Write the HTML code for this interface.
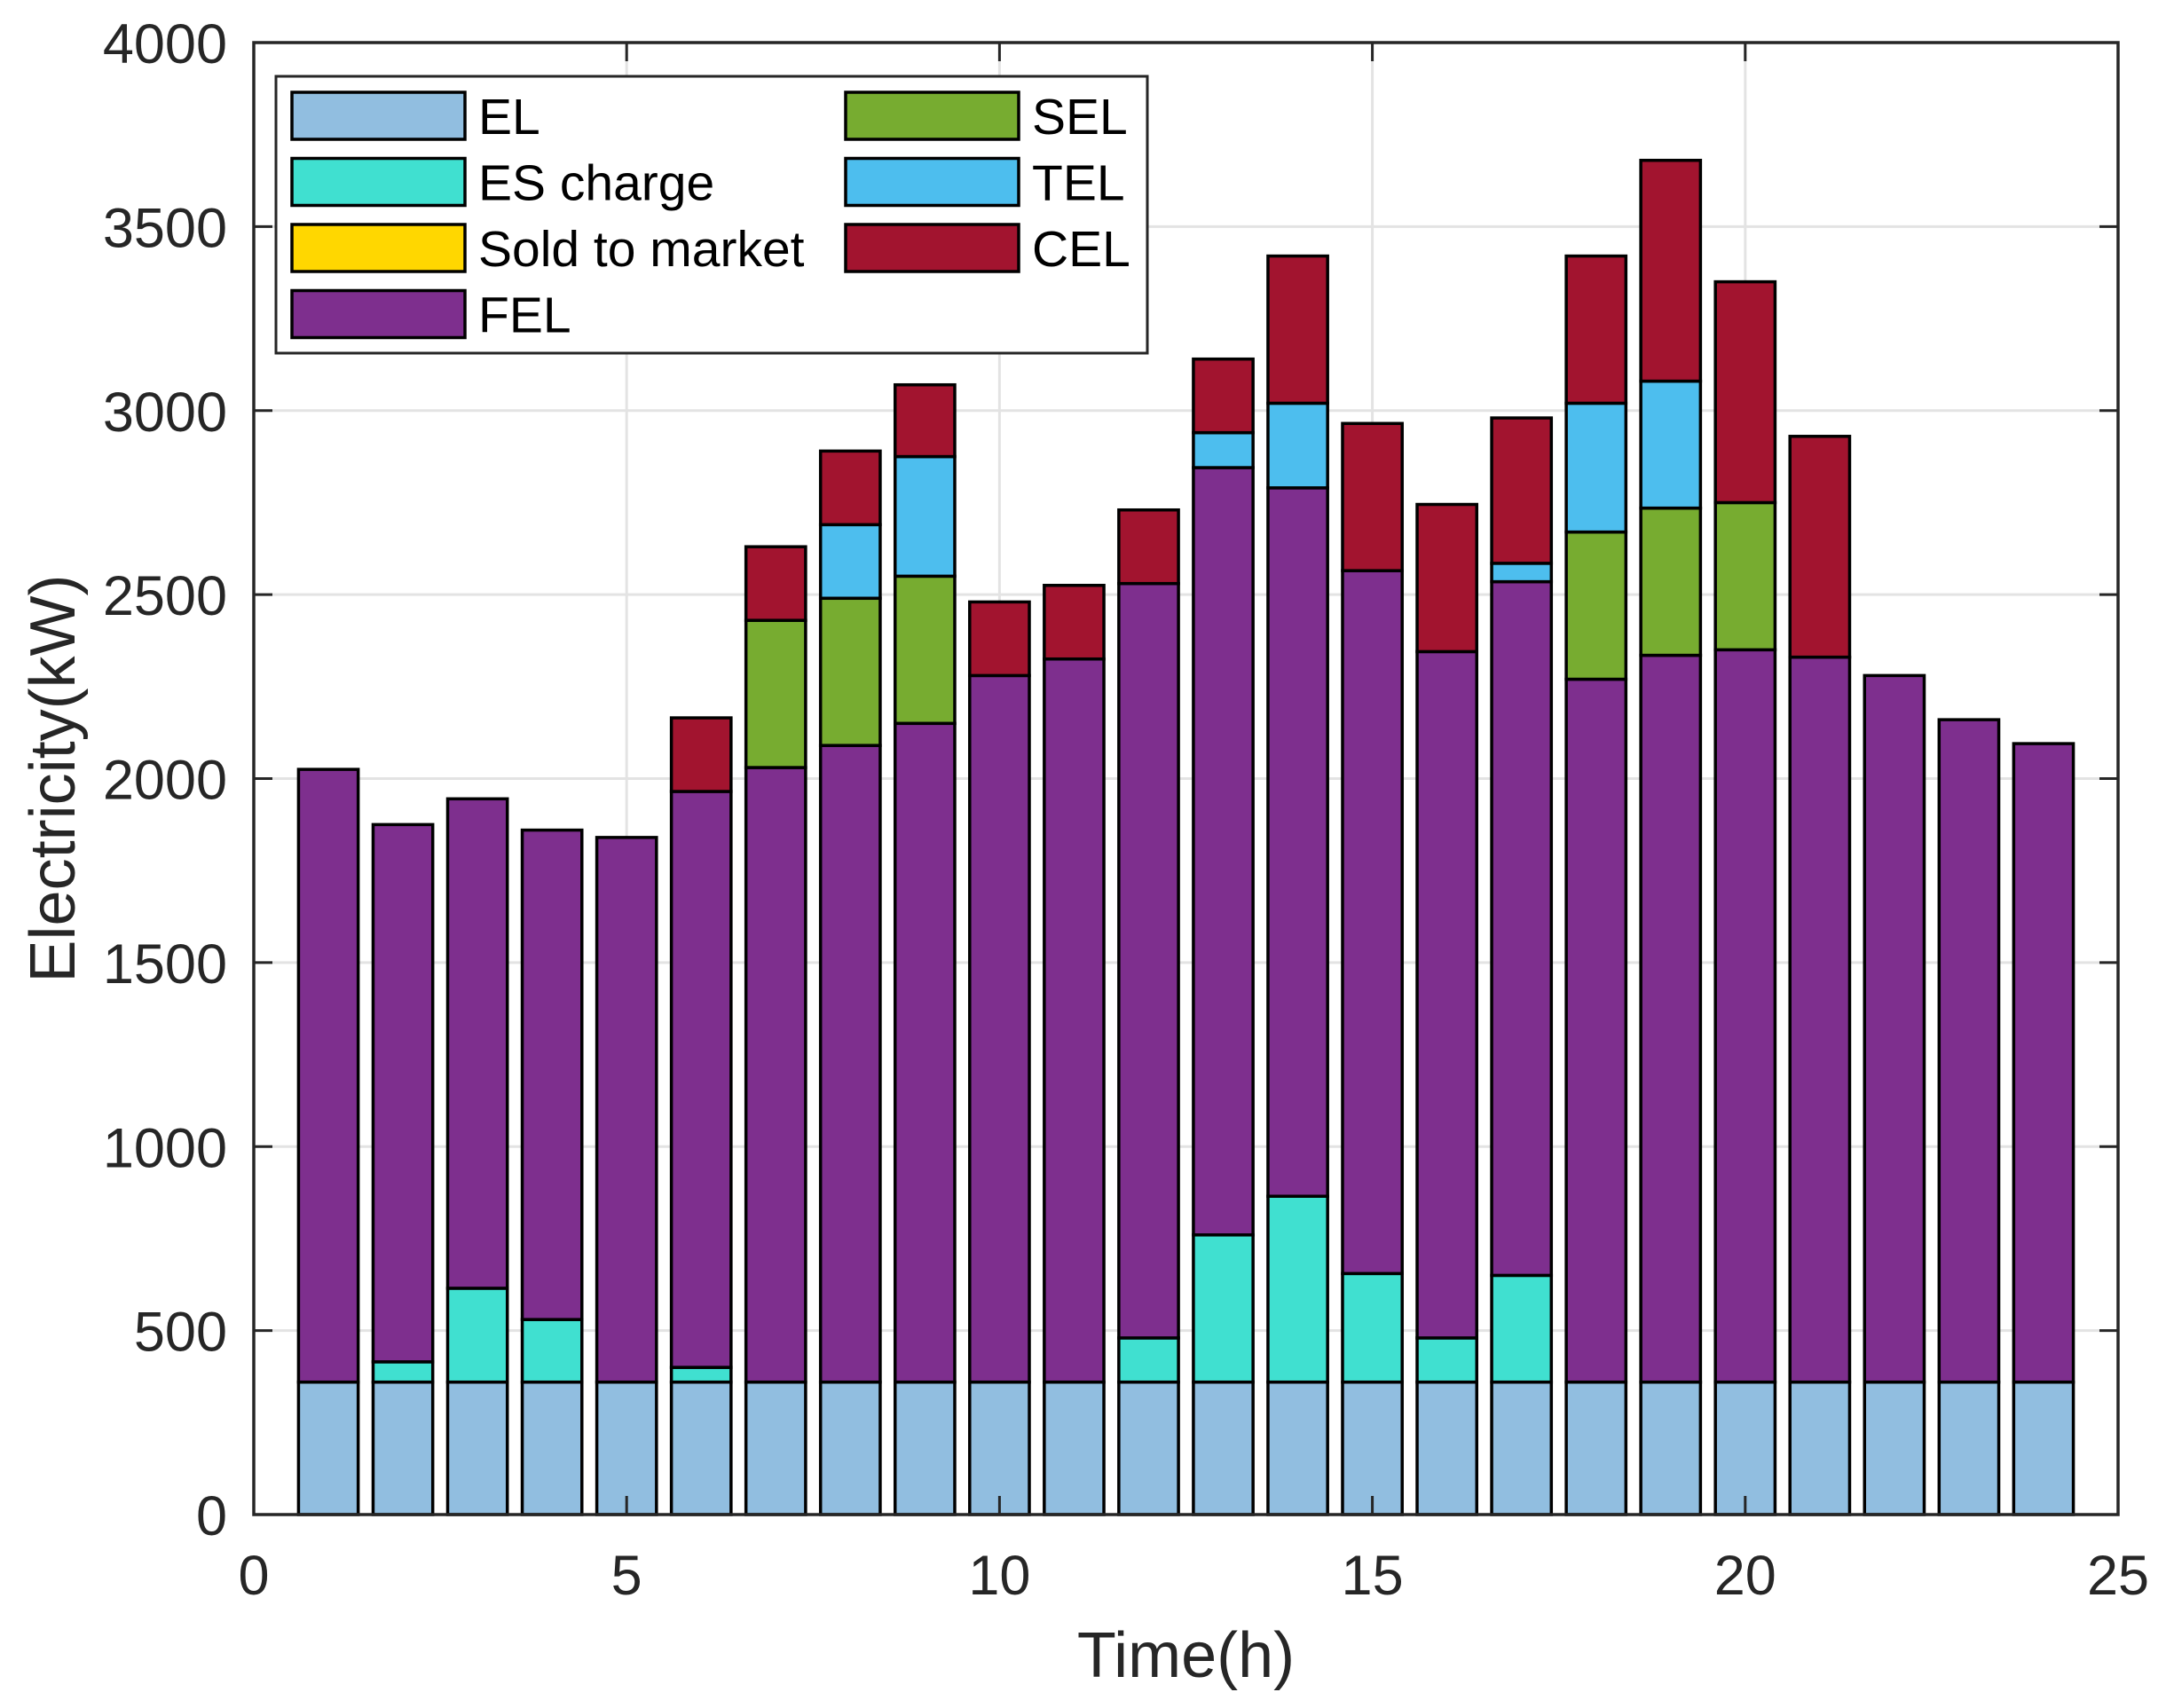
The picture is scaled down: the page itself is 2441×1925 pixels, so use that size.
<!DOCTYPE html>
<html><head><meta charset="utf-8"><style>
html,body{margin:0;padding:0;background:#fff;}
svg{display:block;font-family:"Liberation Sans",Arial,sans-serif;}
</style></head><body>
<svg id="chart" width="2441" height="1925" viewBox="0 0 2441 1925" xmlns="http://www.w3.org/2000/svg">
<rect x="0" y="0" width="2441" height="1925" fill="#fff"/>
<g id="grid"></g>
<g id="bars"></g>
<g id="axes"></g>
<g id="legend"></g>
</svg>
<script>
const hours = [1,2,3,4,5,6,7,8,9,10,11,12,13,14,15,16,17,18,19,20,21,22,23,24];
const elVals   = [360,360,360,360,360,360,360,360,360,360,360,360,360,360,360,360,360,360,360,360,360,360,360,360];
const esVals   = [0,55,255,170,0,40,0,0,0,0,0,120,400,505,295,120,290,0,0,0,0,0,0,0];
const soldVals = [0,0,0,0,0,0,0,0,0,0,0,0,0,0,0,0,0,0,0,0,0,0,0,0];
const felVals  = [1665,1460,1330,1330,1480,1565,1670,1730,1790,1920,1965,2050,2085,1925,1910,1865,1885,1910,1975,1990,1970,1920,1800,1735];
const selVals  = [0,0,0,0,0,0,400,400,400,0,0,0,0,0,0,0,0,400,400,400,0,0,0,0];
const telVals  = [0,0,0,0,0,0,0,200,325,0,0,0,95,230,0,0,50,350,345,0,0,0,0,0];
const celVals  = [0,0,0,0,0,200,200,200,195,200,200,200,200,400,400,400,395,400,600,600,600,0,0,0];
const seriesNames = ["EL","ES charge","Sold to market","FEL","SEL","TEL","CEL"];
const seriesColors = ["#91bee0","#40e0d0","#ffd700","#7e2f8e","#77ac30","#4dbeee","#a2142f"];
const xTicks = [0,5,10,15,20,25];
const yTicks = [0,500,1000,1500,2000,2500,3000,3500,4000];

const L=286,R=2387,T=48,B=1707;
const xs = v => L + (v-0)/(25-0)*(R-L);
const ys = v => B - v/4000*(B-T);
const NS="http://www.w3.org/2000/svg";
function mk(tag, attrs, parent){const e=document.createElementNS(NS,tag);for(const k in attrs)e.setAttribute(k,attrs[k]);parent.appendChild(e);return e;}

const grid=document.getElementById('grid');
xTicks.forEach(t=>{ if(t>0&&t<25){const l=mk('line',{x1:xs(t),x2:xs(t),y1:T,y2:B,stroke:'#e3e3e3','stroke-width':3},grid);

}});
yTicks.forEach(t=>{ if(t>0&&t<4000){const l=mk('line',{x1:L,x2:R,y1:ys(t),y2:ys(t),stroke:'#e3e3e3','stroke-width':3},grid);

}});

const bars=document.getElementById('bars');
const all=[elVals,esVals,soldVals,felVals,selVals,telVals,celVals];
const bw=0.8;
hours.forEach((h,i)=>{
  let base=0;
  all.forEach((arr,s)=>{
    const v=arr[i];
    if(v>0){
      const r=mk('rect',{x:xs(h-bw/2),y:ys(base+v),width:xs(h+bw/2)-xs(h-bw/2),height:ys(base)-ys(base+v),fill:seriesColors[s],stroke:'#000','stroke-width':3.5},bars);
      
      
    }
    base+=v;
  });
});

const axes=document.getElementById('axes');
const box=mk('rect',{x:L,y:T,width:R-L,height:B-T,fill:'none',stroke:'#262626','stroke-width':3.5},axes);


xTicks.forEach(t=>{
  mk('line',{x1:xs(t),x2:xs(t),y1:B,y2:B-21,stroke:'#262626','stroke-width':3},axes);
  mk('line',{x1:xs(t),x2:xs(t),y1:T,y2:T+21,stroke:'#262626','stroke-width':3},axes);
  const tx=mk('text',{x:xs(t),y:B+90,'text-anchor':'middle','font-size':63,fill:'#262626'},axes);
  tx.textContent=t;
  
  
});
yTicks.forEach(t=>{
  mk('line',{x1:L,x2:L+21,y1:ys(t),y2:ys(t),stroke:'#262626','stroke-width':3},axes);
  mk('line',{x1:R,x2:R-21,y1:ys(t),y2:ys(t),stroke:'#262626','stroke-width':3},axes);
  const tx=mk('text',{x:L-30,y:ys(t)+23,'text-anchor':'end','font-size':63,fill:'#262626'},axes);
  tx.textContent=t;
  
  
});
const xl=mk('text',{x:(L+R)/2,y:1890,'text-anchor':'middle','font-size':72,fill:'#262626'},axes);
xl.textContent='Time(h)';


const yl=mk('text',{x:0,y:0,'text-anchor':'middle','font-size':72,fill:'#262626',transform:'translate(84,'+((T+B)/2)+') rotate(-90)'},axes);
yl.textContent='Electricity(kW)';



const lg=document.getElementById('legend');
const lb=mk('rect',{x:311,y:86,width:982,height:312,fill:'#fff',stroke:'#262626','stroke-width':3},lg);


seriesNames.forEach((n,s)=>{
  const col = s<4?0:1, row = s<4?s:s-4;
  const sx = col===0?329:953, sy = 104+row*74.5;
  const sw=mk('rect',{x:sx,y:sy,width:195,height:53,fill:seriesColors[s],stroke:'#000','stroke-width':3.5},lg);
  
  
  const tx=mk('text',{x:sx+210,y:sy+47,'font-size':57,fill:'#000'},lg);
  tx.textContent=n;
  
  
});
</script>
</body></html>
